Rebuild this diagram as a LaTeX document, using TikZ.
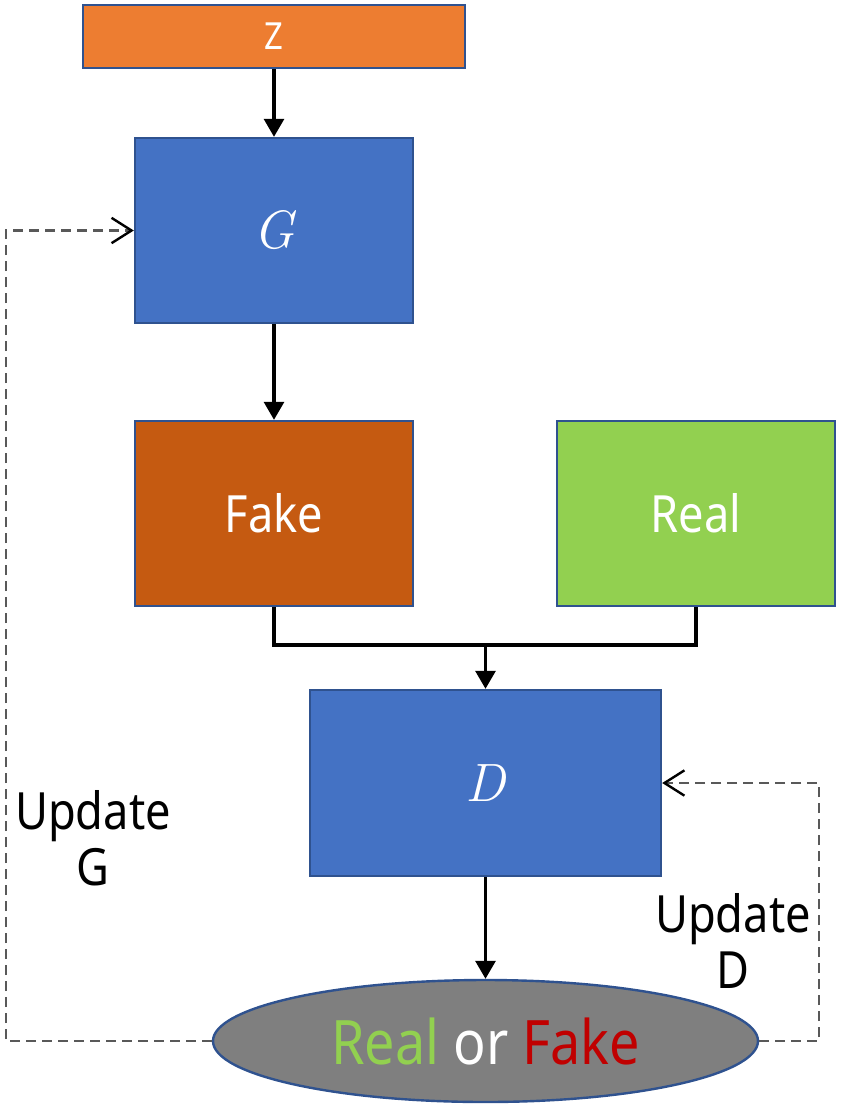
\documentclass[tikz,border=0pt]{standalone}
\usepackage{fontspec}
\newfontfamily\lab{Noto Sans}[FakeStretch=0.88]
\usetikzlibrary{arrows.meta,shapes.geometric,calc}
\definecolor{zor}{HTML}{ED7D31}
\definecolor{gblue}{HTML}{4472C4}
\definecolor{bord}{HTML}{2F528F}
\definecolor{fakebox}{HTML}{C55A11}
\definecolor{realbox}{HTML}{92D050}
\definecolor{ellg}{HTML}{7F7F7F}
\definecolor{fred}{HTML}{C00000}
\definecolor{dashg}{HTML}{595959}
\begin{document}
\begin{tikzpicture}[x=0.75pt,y=-0.75pt,
  box/.style={draw=bord, line width=1.8pt, inner sep=0pt, text=white},
  sq/.style={box, minimum width=208.5pt, minimum height=138.75pt},
  arr/.style={line width=2.3pt, -{Triangle[length=13.5pt,width=15pt]}},
  link/.style={line width=2.3pt},
  fb/.style={dashg, line width=1.8pt, dash pattern=on 7.5pt off 4.5pt,
    -{Straight Barb[length=15pt,width=19pt,color=black,line width=1.8pt]}},
  lbl/.style={font=\lab\fontsize{38.5}{42}\selectfont, align=center},
  big/.style={font=\lab\fontsize{38.5}{42}\selectfont},
  mth/.style={font=\fontsize{40.5}{42}\selectfont\itshape}
]
\useasboundingbox (0,0) rectangle (843,1108);

\node[box, fill=zor, minimum width=286.5pt, minimum height=47.25pt,
      font=\lab\fontsize{28}{28}\selectfont] (Z) at (274,36.5) {Z};
\node[sq, fill=gblue, mth] (G) at (274,230.5) {G};
\node[sq, fill=fakebox, big] (F) at (274,513.5) {Fake};
\node[sq, fill=realbox, big] (R) at (696,513.5) {Real};
\node[box, fill=gblue, mth, minimum width=263.25pt, minimum height=139.5pt] (D) at (485.5,783) {D};
\node[ellipse, draw=bord, line width=1.8pt, fill=ellg, inner sep=0pt,
      minimum width=408.75pt, minimum height=91.5pt,
      font=\lab\fontsize{46}{46}\selectfont] (E) at (485.5,1041)
      {\textcolor{realbox}{Real} \textcolor{white}{or} \textcolor{fred}{Fake}};

\coordinate (J) at (485.5,645);
\draw[arr] (Z) -- (G);
\draw[arr] (G) -- (F);
\draw[link] (F.south) |- (J) -| (R.south);
\draw[arr] (J) -- (D.north);
\draw[arr] (D) -- (E);

\draw[fb] (E.west) -- ++(-206,0) |- (G.west);
\draw[fb] (E.east) -- ++(60,0) |- (D.east);

\node[lbl] (UG) at (93,838) {Update\\G};
\node[lbl] (UD) at (733,941) {Update\\D};
\end{tikzpicture}
\end{document}
